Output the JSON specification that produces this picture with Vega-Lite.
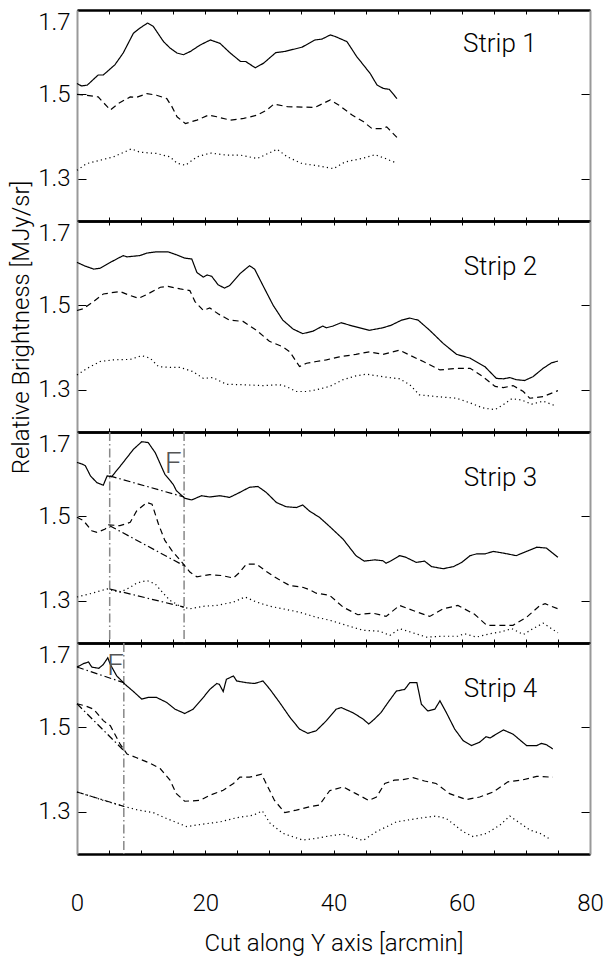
{
"$schema": "https://vega.github.io/schema/vega-lite/v6.json",
"background": "white",
"padding": {"left": 9, "top": 9, "right": 0, "bottom": 5},
"spacing": 0,
"bounds": "flush",
"config": {
  "view": {"stroke": null},
  "axis": {"grid": false, "labelFont": "Roboto", "titleFont": "Roboto", "labelColor": "black", "titleColor": "black", "tickColor": "black", "titleFontWeight": 300, "labelFontWeight": 300, "labelOverlap": false},
  "text": {"font": "Roboto", "fontWeight": 300}
},
"datasets": {
"strip1": [
{"series":"solid","x":0,"y":1.526},{"series":"solid","x":0.7,"y":1.52},{"series":"solid","x":1.6,"y":1.522},{"series":"solid","x":3.3,"y":1.546},{"series":"solid","x":4.1,"y":1.546},{"series":"solid","x":5.9,"y":1.57},{"series":"solid","x":7.2,"y":1.598},{"series":"solid","x":8.8,"y":1.645},{"series":"solid","x":9.8,"y":1.657},{"series":"solid","x":11.0,"y":1.669},{"series":"solid","x":11.9,"y":1.661},{"series":"solid","x":13.5,"y":1.625},{"series":"solid","x":14.5,"y":1.61},{"series":"solid","x":15.6,"y":1.598},{"series":"solid","x":16.6,"y":1.594},{"series":"solid","x":17.7,"y":1.602},{"series":"solid","x":19.2,"y":1.617},{"series":"solid","x":20.8,"y":1.629},{"series":"solid","x":22.3,"y":1.621},{"series":"solid","x":23.9,"y":1.598},{"series":"solid","x":25.5,"y":1.578},{"series":"solid","x":26.3,"y":1.578},{"series":"solid","x":27.8,"y":1.563},{"series":"solid","x":29.1,"y":1.574},{"series":"solid","x":31.0,"y":1.599},{"series":"solid","x":32.5,"y":1.602},{"series":"solid","x":35.1,"y":1.612},{"series":"solid","x":37.1,"y":1.629},{"series":"solid","x":38.2,"y":1.631},{"series":"solid","x":39.5,"y":1.641},{"series":"solid","x":40.3,"y":1.637},{"series":"solid","x":42.1,"y":1.625},{"series":"solid","x":43.6,"y":1.59},{"series":"solid","x":45.7,"y":1.55},{"series":"solid","x":46.8,"y":1.522},{"series":"solid","x":47.8,"y":1.514},{"series":"solid","x":48.7,"y":1.512},{"series":"solid","x":49.9,"y":1.49},
{"series":"dashed","x":0,"y":1.5},{"series":"dashed","x":1.5,"y":1.498},{"series":"dashed","x":3.3,"y":1.494},{"series":"dashed","x":5.2,"y":1.463},{"series":"dashed","x":6.5,"y":1.479},{"series":"dashed","x":8.3,"y":1.494},{"series":"dashed","x":9.3,"y":1.493},{"series":"dashed","x":10.9,"y":1.502},{"series":"dashed","x":12.4,"y":1.498},{"series":"dashed","x":14.0,"y":1.49},{"series":"dashed","x":14.8,"y":1.471},{"series":"dashed","x":15.6,"y":1.447},{"series":"dashed","x":16.9,"y":1.431},{"series":"dashed","x":18.7,"y":1.439},{"series":"dashed","x":20.5,"y":1.451},{"series":"dashed","x":21.8,"y":1.447},{"series":"dashed","x":23.9,"y":1.439},{"series":"dashed","x":26.0,"y":1.443},{"series":"dashed","x":28.1,"y":1.451},{"series":"dashed","x":29.6,"y":1.463},{"series":"dashed","x":30.7,"y":1.477},{"series":"dashed","x":32.8,"y":1.471},{"series":"dashed","x":35.1,"y":1.47},{"series":"dashed","x":37.1,"y":1.469},{"series":"dashed","x":39.5,"y":1.487},{"series":"dashed","x":40.8,"y":1.475},{"series":"dashed","x":42.9,"y":1.451},{"series":"dashed","x":44.7,"y":1.435},{"series":"dashed","x":46.0,"y":1.419},{"series":"dashed","x":47.6,"y":1.419},{"series":"dashed","x":48.3,"y":1.423},{"series":"dashed","x":49.9,"y":1.398},
{"series":"dotted","x":0,"y":1.32},{"series":"dotted","x":1.5,"y":1.336},{"series":"dotted","x":3.6,"y":1.344},{"series":"dotted","x":5.7,"y":1.352},{"series":"dotted","x":8.5,"y":1.371},{"series":"dotted","x":9.8,"y":1.363},{"series":"dotted","x":12.4,"y":1.36},{"series":"dotted","x":14.5,"y":1.352},{"series":"dotted","x":15.6,"y":1.337},{"series":"dotted","x":16.9,"y":1.332},{"series":"dotted","x":18.7,"y":1.352},{"series":"dotted","x":20.8,"y":1.361},{"series":"dotted","x":23.4,"y":1.356},{"series":"dotted","x":25.5,"y":1.356},{"series":"dotted","x":28.1,"y":1.348},{"series":"dotted","x":31.2,"y":1.37},{"series":"dotted","x":32.8,"y":1.352},{"series":"dotted","x":35.1,"y":1.336},{"series":"dotted","x":37.1,"y":1.332},{"series":"dotted","x":40.0,"y":1.324},{"series":"dotted","x":41.8,"y":1.34},{"series":"dotted","x":44.4,"y":1.348},{"series":"dotted","x":46.5,"y":1.357},{"series":"dotted","x":48.1,"y":1.348},{"series":"dotted","x":49.9,"y":1.337}
],
"strip2": [
{"series":"solid","x":0,"y":1.602},{"series":"solid","x":1.3,"y":1.593},{"series":"solid","x":2.6,"y":1.586},{"series":"solid","x":3.6,"y":1.588},{"series":"solid","x":5.2,"y":1.602},{"series":"solid","x":7.2,"y":1.618},{"series":"solid","x":7.8,"y":1.615},{"series":"solid","x":9.8,"y":1.618},{"series":"solid","x":10.9,"y":1.624},{"series":"solid","x":12.4,"y":1.627},{"series":"solid","x":14.2,"y":1.627},{"series":"solid","x":15.5,"y":1.62},{"series":"solid","x":16.8,"y":1.612},{"series":"solid","x":17.9,"y":1.61},{"series":"solid","x":18.7,"y":1.578},{"series":"solid","x":19.7,"y":1.567},{"series":"solid","x":20.3,"y":1.572},{"series":"solid","x":21.0,"y":1.569},{"series":"solid","x":22.0,"y":1.549},{"series":"solid","x":23.0,"y":1.541},{"series":"solid","x":23.8,"y":1.547},{"series":"solid","x":25.4,"y":1.575},{"series":"solid","x":26.9,"y":1.594},{"series":"solid","x":27.7,"y":1.586},{"series":"solid","x":29.0,"y":1.547},{"series":"solid","x":30.6,"y":1.5},{"series":"solid","x":32.1,"y":1.465},{"series":"solid","x":33.7,"y":1.444},{"series":"solid","x":35.2,"y":1.433},{"series":"solid","x":36.8,"y":1.439},{"series":"solid","x":38.3,"y":1.451},{"series":"solid","x":38.9,"y":1.447},{"series":"solid","x":39.9,"y":1.451},{"series":"solid","x":41.2,"y":1.459},{"series":"solid","x":43.0,"y":1.451},{"series":"solid","x":45.6,"y":1.441},{"series":"solid","x":47.7,"y":1.447},{"series":"solid","x":49.0,"y":1.453},{"series":"solid","x":50.6,"y":1.465},{"series":"solid","x":51.9,"y":1.47},{"series":"solid","x":53.2,"y":1.465},{"series":"solid","x":55.0,"y":1.441},{"series":"solid","x":57.1,"y":1.41},{"series":"solid","x":59.2,"y":1.384},{"series":"solid","x":61.3,"y":1.375},{"series":"solid","x":63.6,"y":1.355},{"series":"solid","x":65.4,"y":1.327},{"series":"solid","x":66.5,"y":1.326},{"series":"solid","x":67.5,"y":1.329},{"series":"solid","x":68.5,"y":1.324},{"series":"solid","x":69.8,"y":1.322},{"series":"solid","x":71.1,"y":1.331},{"series":"solid","x":72.7,"y":1.351},{"series":"solid","x":74.0,"y":1.364},{"series":"solid","x":75.0,"y":1.368},
{"series":"dashed","x":0,"y":1.488},{"series":"dashed","x":1.0,"y":1.492},{"series":"dashed","x":2.3,"y":1.506},{"series":"dashed","x":4.1,"y":1.527},{"series":"dashed","x":6.7,"y":1.533},{"series":"dashed","x":8.0,"y":1.525},{"series":"dashed","x":9.6,"y":1.517},{"series":"dashed","x":10.9,"y":1.526},{"series":"dashed","x":13.0,"y":1.543},{"series":"dashed","x":14.2,"y":1.545},{"series":"dashed","x":16.1,"y":1.539},{"series":"dashed","x":17.6,"y":1.535},{"series":"dashed","x":18.4,"y":1.509},{"series":"dashed","x":19.7,"y":1.488},{"series":"dashed","x":20.7,"y":1.494},{"series":"dashed","x":22.0,"y":1.48},{"series":"dashed","x":23.8,"y":1.465},{"series":"dashed","x":25.9,"y":1.462},{"series":"dashed","x":28.0,"y":1.441},{"series":"dashed","x":30.0,"y":1.415},{"series":"dashed","x":32.1,"y":1.402},{"series":"dashed","x":33.2,"y":1.39},{"series":"dashed","x":34.7,"y":1.355},{"series":"dashed","x":35.8,"y":1.363},{"series":"dashed","x":37.3,"y":1.367},{"series":"dashed","x":38.9,"y":1.371},{"series":"dashed","x":40.9,"y":1.378},{"series":"dashed","x":43.5,"y":1.384},{"series":"dashed","x":45.6,"y":1.39},{"series":"dashed","x":47.7,"y":1.384},{"series":"dashed","x":50.3,"y":1.394},{"series":"dashed","x":51.9,"y":1.382},{"series":"dashed","x":54.0,"y":1.367},{"series":"dashed","x":56.6,"y":1.347},{"series":"dashed","x":59.2,"y":1.351},{"series":"dashed","x":61.3,"y":1.351},{"series":"dashed","x":63.3,"y":1.331},{"series":"dashed","x":65.2,"y":1.308},{"series":"dashed","x":66.5,"y":1.305},{"series":"dashed","x":68.0,"y":1.31},{"series":"dashed","x":69.6,"y":1.296},{"series":"dashed","x":70.6,"y":1.28},{"series":"dashed","x":72.7,"y":1.284},{"series":"dashed","x":75.0,"y":1.298},
{"series":"dotted","x":0,"y":1.335},{"series":"dotted","x":1.6,"y":1.351},{"series":"dotted","x":3.6,"y":1.367},{"series":"dotted","x":5.7,"y":1.371},{"series":"dotted","x":8.3,"y":1.372},{"series":"dotted","x":10.1,"y":1.381},{"series":"dotted","x":11.4,"y":1.375},{"series":"dotted","x":12.7,"y":1.355},{"series":"dotted","x":14.5,"y":1.353},{"series":"dotted","x":16.1,"y":1.353},{"series":"dotted","x":18.1,"y":1.343},{"series":"dotted","x":19.7,"y":1.327},{"series":"dotted","x":21.2,"y":1.329},{"series":"dotted","x":23.3,"y":1.313},{"series":"dotted","x":25.9,"y":1.312},{"series":"dotted","x":29.0,"y":1.31},{"series":"dotted","x":31.6,"y":1.312},{"series":"dotted","x":32.6,"y":1.308},{"series":"dotted","x":34.2,"y":1.296},{"series":"dotted","x":35.8,"y":1.296},{"series":"dotted","x":37.3,"y":1.3},{"series":"dotted","x":39.4,"y":1.308},{"series":"dotted","x":41.5,"y":1.324},{"series":"dotted","x":43.5,"y":1.333},{"series":"dotted","x":45.1,"y":1.337},{"series":"dotted","x":47.7,"y":1.331},{"series":"dotted","x":50.3,"y":1.326},{"series":"dotted","x":51.9,"y":1.312},{"series":"dotted","x":53.4,"y":1.288},{"series":"dotted","x":56.0,"y":1.284},{"series":"dotted","x":59.2,"y":1.28},{"series":"dotted","x":61.3,"y":1.269},{"series":"dotted","x":63.3,"y":1.257},{"series":"dotted","x":65.2,"y":1.253},{"series":"dotted","x":66.5,"y":1.265},{"series":"dotted","x":67.8,"y":1.279},{"series":"dotted","x":69.3,"y":1.276},{"series":"dotted","x":70.9,"y":1.266},{"series":"dotted","x":72.7,"y":1.273},{"series":"dotted","x":74.8,"y":1.261}
],
"strip3": [
{"series":"solid","x":0,"y":1.628},{"series":"solid","x":0.8,"y":1.624},{"series":"solid","x":1.3,"y":1.62},{"series":"solid","x":2.1,"y":1.596},{"series":"solid","x":3.1,"y":1.58},{"series":"solid","x":4.1,"y":1.574},{"series":"solid","x":4.7,"y":1.596},{"series":"solid","x":5.4,"y":1.594},{"series":"solid","x":7.0,"y":1.624},{"series":"solid","x":8.8,"y":1.659},{"series":"solid","x":10.1,"y":1.677},{"series":"solid","x":11.1,"y":1.675},{"series":"solid","x":12.2,"y":1.651},{"series":"solid","x":13.7,"y":1.6},{"series":"solid","x":15.0,"y":1.576},{"series":"solid","x":15.5,"y":1.561},{"series":"solid","x":16.8,"y":1.543},{"series":"solid","x":17.9,"y":1.539},{"series":"solid","x":19.4,"y":1.549},{"series":"solid","x":20.7,"y":1.546},{"series":"solid","x":22.3,"y":1.549},{"series":"solid","x":23.8,"y":1.545},{"series":"solid","x":25.4,"y":1.557},{"series":"solid","x":26.9,"y":1.569},{"series":"solid","x":28.2,"y":1.571},{"series":"solid","x":29.5,"y":1.557},{"series":"solid","x":31.1,"y":1.533},{"series":"solid","x":32.6,"y":1.523},{"series":"solid","x":34.2,"y":1.521},{"series":"solid","x":35.2,"y":1.527},{"series":"solid","x":36.3,"y":1.512},{"series":"solid","x":37.8,"y":1.498},{"series":"solid","x":39.4,"y":1.476},{"series":"solid","x":41.5,"y":1.446},{"series":"solid","x":43.5,"y":1.407},{"series":"solid","x":44.8,"y":1.394},{"series":"solid","x":46.4,"y":1.397},{"series":"solid","x":47.7,"y":1.395},{"series":"solid","x":48.2,"y":1.389},{"series":"solid","x":49.0,"y":1.395},{"series":"solid","x":50.3,"y":1.407},{"series":"solid","x":51.3,"y":1.403},{"series":"solid","x":52.9,"y":1.391},{"series":"solid","x":54.2,"y":1.394},{"series":"solid","x":55.3,"y":1.381},{"series":"solid","x":57.1,"y":1.376},{"series":"solid","x":58.7,"y":1.381},{"series":"solid","x":60.0,"y":1.391},{"series":"solid","x":61.3,"y":1.407},{"series":"solid","x":62.3,"y":1.411},{"series":"solid","x":63.6,"y":1.411},{"series":"solid","x":64.9,"y":1.417},{"series":"solid","x":66.5,"y":1.413},{"series":"solid","x":68.5,"y":1.407},{"series":"solid","x":70.1,"y":1.417},{"series":"solid","x":71.7,"y":1.427},{"series":"solid","x":73.2,"y":1.425},{"series":"solid","x":75.0,"y":1.403},
{"series":"dashed","x":0,"y":1.498},{"series":"dashed","x":1.0,"y":1.49},{"series":"dashed","x":2.3,"y":1.466},{"series":"dashed","x":3.1,"y":1.462},{"series":"dashed","x":4.4,"y":1.47},{"series":"dashed","x":4.9,"y":1.48},{"series":"dashed","x":6.7,"y":1.478},{"series":"dashed","x":8.3,"y":1.486},{"series":"dashed","x":9.3,"y":1.513},{"series":"dashed","x":10.9,"y":1.533},{"series":"dashed","x":11.7,"y":1.529},{"series":"dashed","x":12.7,"y":1.482},{"series":"dashed","x":13.7,"y":1.443},{"series":"dashed","x":14.8,"y":1.419},{"series":"dashed","x":16.6,"y":1.387},{"series":"dashed","x":17.6,"y":1.368},{"series":"dashed","x":18.7,"y":1.357},{"series":"dashed","x":20.7,"y":1.362},{"series":"dashed","x":22.5,"y":1.36},{"series":"dashed","x":24.4,"y":1.354},{"series":"dashed","x":25.4,"y":1.368},{"series":"dashed","x":26.4,"y":1.387},{"series":"dashed","x":28.0,"y":1.387},{"series":"dashed","x":29.5,"y":1.37},{"series":"dashed","x":31.3,"y":1.352},{"series":"dashed","x":33.2,"y":1.336},{"series":"dashed","x":35.2,"y":1.332},{"series":"dashed","x":36.3,"y":1.326},{"series":"dashed","x":37.3,"y":1.318},{"series":"dashed","x":39.4,"y":1.313},{"series":"dashed","x":41.5,"y":1.285},{"series":"dashed","x":43.8,"y":1.267},{"series":"dashed","x":46.1,"y":1.271},{"series":"dashed","x":48.2,"y":1.263},{"series":"dashed","x":50.3,"y":1.289},{"series":"dashed","x":52.4,"y":1.277},{"series":"dashed","x":55.0,"y":1.263},{"series":"dashed","x":57.1,"y":1.281},{"series":"dashed","x":59.4,"y":1.289},{"series":"dashed","x":62.0,"y":1.268},{"series":"dashed","x":63.9,"y":1.242},{"series":"dashed","x":66.0,"y":1.242},{"series":"dashed","x":68.0,"y":1.242},{"series":"dashed","x":70.1,"y":1.261},{"series":"dashed","x":72.2,"y":1.289},{"series":"dashed","x":73.0,"y":1.293},{"series":"dashed","x":75.0,"y":1.281},
{"series":"dotted","x":0,"y":1.309},{"series":"dotted","x":2.1,"y":1.317},{"series":"dotted","x":4.7,"y":1.328},{"series":"dotted","x":6.7,"y":1.32},{"series":"dotted","x":8.3,"y":1.332},{"series":"dotted","x":9.3,"y":1.342},{"series":"dotted","x":10.9,"y":1.348},{"series":"dotted","x":12.2,"y":1.34},{"series":"dotted","x":13.5,"y":1.317},{"series":"dotted","x":14.5,"y":1.301},{"series":"dotted","x":16.1,"y":1.287},{"series":"dotted","x":17.6,"y":1.281},{"series":"dotted","x":19.7,"y":1.287},{"series":"dotted","x":21.8,"y":1.289},{"series":"dotted","x":24.4,"y":1.297},{"series":"dotted","x":26.2,"y":1.309},{"series":"dotted","x":28.0,"y":1.297},{"series":"dotted","x":30.1,"y":1.287},{"series":"dotted","x":32.1,"y":1.281},{"series":"dotted","x":34.7,"y":1.273},{"series":"dotted","x":37.3,"y":1.261},{"series":"dotted","x":39.4,"y":1.254},{"series":"dotted","x":42.0,"y":1.242},{"series":"dotted","x":44.6,"y":1.23},{"series":"dotted","x":47.2,"y":1.228},{"series":"dotted","x":48.8,"y":1.218},{"series":"dotted","x":50.3,"y":1.234},{"series":"dotted","x":52.4,"y":1.224},{"series":"dotted","x":54.5,"y":1.214},{"series":"dotted","x":57.1,"y":1.216},{"series":"dotted","x":59.4,"y":1.216},{"series":"dotted","x":60.4,"y":1.222},{"series":"dotted","x":62.3,"y":1.214},{"series":"dotted","x":64.4,"y":1.222},{"series":"dotted","x":66.0,"y":1.226},{"series":"dotted","x":67.8,"y":1.234},{"series":"dotted","x":69.6,"y":1.22},{"series":"dotted","x":71.1,"y":1.234},{"series":"dotted","x":72.7,"y":1.247},{"series":"dotted","x":74.0,"y":1.234},{"series":"dotted","x":75.0,"y":1.224}
],
"strip4": [
{"series":"solid","x":0,"y":1.643},{"series":"solid","x":1.0,"y":1.651},{"series":"solid","x":1.8,"y":1.655},{"series":"solid","x":2.3,"y":1.643},{"series":"solid","x":3.4,"y":1.64},{"series":"solid","x":4.1,"y":1.649},{"series":"solid","x":4.8,"y":1.665},{"series":"solid","x":5.2,"y":1.649},{"series":"solid","x":6.2,"y":1.622},{"series":"solid","x":7.5,"y":1.602},{"series":"solid","x":8.8,"y":1.585},{"series":"solid","x":10.1,"y":1.567},{"series":"solid","x":11.1,"y":1.571},{"series":"solid","x":12.4,"y":1.571},{"series":"solid","x":14.0,"y":1.559},{"series":"solid","x":15.3,"y":1.543},{"series":"solid","x":16.8,"y":1.533},{"series":"solid","x":18.1,"y":1.543},{"series":"solid","x":19.7,"y":1.571},{"series":"solid","x":20.7,"y":1.59},{"series":"solid","x":21.8,"y":1.604},{"series":"solid","x":22.2,"y":1.602},{"series":"solid","x":22.8,"y":1.585},{"series":"solid","x":23.3,"y":1.614},{"series":"solid","x":24.4,"y":1.622},{"series":"solid","x":24.9,"y":1.61},{"series":"solid","x":26.4,"y":1.606},{"series":"solid","x":27.7,"y":1.604},{"series":"solid","x":29.0,"y":1.61},{"series":"solid","x":30.1,"y":1.59},{"series":"solid","x":31.6,"y":1.559},{"series":"solid","x":33.2,"y":1.524},{"series":"solid","x":34.7,"y":1.496},{"series":"solid","x":36.0,"y":1.486},{"series":"solid","x":37.3,"y":1.492},{"series":"solid","x":38.9,"y":1.516},{"series":"solid","x":40.4,"y":1.543},{"series":"solid","x":41.2,"y":1.547},{"series":"solid","x":43.0,"y":1.535},{"series":"solid","x":44.6,"y":1.52},{"series":"solid","x":45.5,"y":1.508},{"series":"solid","x":46.4,"y":1.52},{"series":"solid","x":47.4,"y":1.535},{"series":"solid","x":48.5,"y":1.559},{"series":"solid","x":49.8,"y":1.586},{"series":"solid","x":51.1,"y":1.59},{"series":"solid","x":51.9,"y":1.606},{"series":"solid","x":53.0,"y":1.606},{"series":"solid","x":53.7,"y":1.555},{"series":"solid","x":54.7,"y":1.539},{"series":"solid","x":55.8,"y":1.543},{"series":"solid","x":56.6,"y":1.563},{"series":"solid","x":57.6,"y":1.535},{"series":"solid","x":58.9,"y":1.496},{"series":"solid","x":60.2,"y":1.469},{"series":"solid","x":61.5,"y":1.457},{"series":"solid","x":62.8,"y":1.465},{"series":"solid","x":63.8,"y":1.478},{"series":"solid","x":64.4,"y":1.475},{"series":"solid","x":66.5,"y":1.494},{"series":"solid","x":68.0,"y":1.484},{"series":"solid","x":70.1,"y":1.457},{"series":"solid","x":71.7,"y":1.457},{"series":"solid","x":72.4,"y":1.462},{"series":"solid","x":73.2,"y":1.459},{"series":"solid","x":74.2,"y":1.449},
{"series":"dashed","x":0,"y":1.556},{"series":"dashed","x":1.3,"y":1.551},{"series":"dashed","x":2.6,"y":1.543},{"series":"dashed","x":4.1,"y":1.516},{"series":"dashed","x":5.2,"y":1.504},{"series":"dashed","x":6.7,"y":1.461},{"series":"dashed","x":7.8,"y":1.437},{"series":"dashed","x":9.3,"y":1.428},{"series":"dashed","x":11.4,"y":1.415},{"series":"dashed","x":13.0,"y":1.402},{"series":"dashed","x":14.5,"y":1.375},{"series":"dashed","x":15.5,"y":1.343},{"series":"dashed","x":16.8,"y":1.325},{"series":"dashed","x":19.2,"y":1.327},{"series":"dashed","x":20.7,"y":1.339},{"series":"dashed","x":22.8,"y":1.351},{"series":"dashed","x":24.4,"y":1.367},{"series":"dashed","x":25.4,"y":1.382},{"series":"dashed","x":26.9,"y":1.382},{"series":"dashed","x":28.8,"y":1.389},{"series":"dashed","x":29.5,"y":1.367},{"series":"dashed","x":30.8,"y":1.327},{"series":"dashed","x":32.4,"y":1.298},{"series":"dashed","x":34.2,"y":1.304},{"series":"dashed","x":36.3,"y":1.312},{"series":"dashed","x":37.8,"y":1.316},{"series":"dashed","x":39.4,"y":1.35},{"series":"dashed","x":41.5,"y":1.359},{"series":"dashed","x":43.5,"y":1.343},{"series":"dashed","x":45.5,"y":1.327},{"series":"dashed","x":46.7,"y":1.335},{"series":"dashed","x":48.0,"y":1.367},{"series":"dashed","x":49.5,"y":1.375},{"series":"dashed","x":50.8,"y":1.376},{"series":"dashed","x":52.4,"y":1.381},{"series":"dashed","x":54.2,"y":1.373},{"series":"dashed","x":56.0,"y":1.367},{"series":"dashed","x":58.1,"y":1.343},{"series":"dashed","x":60.7,"y":1.329},{"series":"dashed","x":62.8,"y":1.335},{"series":"dashed","x":64.9,"y":1.347},{"series":"dashed","x":67.2,"y":1.371},{"series":"dashed","x":69.3,"y":1.375},{"series":"dashed","x":71.7,"y":1.384},{"series":"dashed","x":74.2,"y":1.382},
{"series":"dotted","x":0,"y":1.347},{"series":"dotted","x":2.1,"y":1.337},{"series":"dotted","x":4.1,"y":1.327},{"series":"dotted","x":7.3,"y":1.313},{"series":"dotted","x":9.3,"y":1.305},{"series":"dotted","x":11.9,"y":1.298},{"series":"dotted","x":14.0,"y":1.284},{"series":"dotted","x":17.1,"y":1.265},{"series":"dotted","x":19.7,"y":1.271},{"series":"dotted","x":22.3,"y":1.276},{"series":"dotted","x":24.9,"y":1.286},{"series":"dotted","x":27.5,"y":1.292},{"series":"dotted","x":28.9,"y":1.302},{"series":"dotted","x":30.1,"y":1.273},{"series":"dotted","x":32.1,"y":1.249},{"series":"dotted","x":35.2,"y":1.233},{"series":"dotted","x":37.3,"y":1.237},{"series":"dotted","x":39.4,"y":1.243},{"series":"dotted","x":41.5,"y":1.247},{"series":"dotted","x":44.6,"y":1.232},{"series":"dotted","x":46.7,"y":1.253},{"series":"dotted","x":49.8,"y":1.276},{"series":"dotted","x":53.0,"y":1.284},{"series":"dotted","x":56.0,"y":1.29},{"series":"dotted","x":57.6,"y":1.284},{"series":"dotted","x":60.2,"y":1.253},{"series":"dotted","x":61.8,"y":1.241},{"series":"dotted","x":63.9,"y":1.249},{"series":"dotted","x":66.0,"y":1.269},{"series":"dotted","x":67.5,"y":1.29},{"series":"dotted","x":69.1,"y":1.273},{"series":"dotted","x":70.6,"y":1.257},{"series":"dotted","x":72.2,"y":1.249},{"series":"dotted","x":73.8,"y":1.235}
],
"fits": [
{"strip":3,"series":"solid","x":5.1,"y":1.596},{"strip":3,"series":"solid","x":16.7,"y":1.546},
{"strip":3,"series":"dashed","x":5.1,"y":1.478},{"strip":3,"series":"dashed","x":16.7,"y":1.383},
{"strip":3,"series":"dotted","x":5.1,"y":1.328},{"strip":3,"series":"dotted","x":16.7,"y":1.285},
{"strip":4,"series":"solid","x":0,"y":1.643},{"strip":4,"series":"solid","x":7.3,"y":1.606},
{"strip":4,"series":"dashed","x":0,"y":1.556},{"strip":4,"series":"dashed","x":7.3,"y":1.445},
{"strip":4,"series":"dotted","x":0,"y":1.347},{"strip":4,"series":"dotted","x":7.3,"y":1.313}
],
"vlines": [{"strip":3,"x":5.1},{"strip":3,"x":16.7},{"strip":4,"x":7.3}],
"names": [
{"strip":1,"x":60.2,"y":1.6,"text":"Strip 1"},
{"strip":2,"x":60.3,"y":1.571,"text":"Strip 2"},
{"strip":3,"x":60.3,"y":1.571,"text":"Strip 3"},
{"strip":4,"x":60.3,"y":1.571,"text":"Strip 4"}
],
"flags": [{"strip":3,"x":16.3,"y":1.604,"text":"F"},{"strip":4,"x":7.3,"y":1.625,"text":"F"}]
},
"vconcat": [
{
 "width": 513, "height": 211,
 "layer": [
  {"data": {"name": "strip1"},
   "mark": {"type": "line", "color": "black", "strokeWidth": 1.2},
   "encoding": {
    "x": {"field": "x", "type": "quantitative", "scale": {"domain": [0, 80], "nice": false}, "axis": {"orient": "bottom", "values": [0,5,10,15,20,25,30,35,40,45,50,55,60,65,70,75,80], "tickSize": -4, "labels": false, "title": null, "domainColor": "black", "domainWidth": 2.5}},
    "y": {"field": "y", "type": "quantitative", "scale": {"domain": [1.2, 1.7], "nice": false, "zero": false}, "axis": {"orient": "left", "values": [1.3, 1.5, 1.7], "format": ".1f", "tickSize": -9, "labelFontSize": 24, "labelPadding": 16, "labelFlush": true, "domainColor": "#999", "domainWidth": 2, "title": null}},
    "strokeDash": {"field": "series", "type": "nominal", "scale": {"domain": ["solid", "dashed", "dotted"], "range": [[1, 0], [6, 4], [1.2, 3.2]]}, "legend": null}
   }},
  {"data": {"name": "names"}, "transform": [{"filter": "datum.strip == 1"}],
   "mark": {"type": "text", "align": "left", "baseline": "alphabetic", "fontSize": 26, "color": "black"},
   "encoding": {
    "x": {"field": "x", "type": "quantitative", "scale": {"domain": [0, 80], "nice": false}, "axis": {"orient": "top", "values": [0,5,10,15,20,25,30,35,40,45,50,55,60,65,70,75,80], "tickSize": -4, "labels": false, "title": null, "domainColor": "black", "domainWidth": 2.5}},
    "y": {"field": "y", "type": "quantitative", "scale": {"domain": [1.2, 1.7], "nice": false, "zero": false}, "axis": {"orient": "right", "values": [1.3, 1.5, 1.7], "tickSize": -9, "labels": false, "title": null, "domainColor": "#999", "domainWidth": 2}},
    "text": {"field": "text"}
   }}
 ]
},
{
 "width": 513, "height": 211,
 "layer": [
  {"data": {"name": "strip2"},
   "mark": {"type": "line", "color": "black", "strokeWidth": 1.2},
   "encoding": {
    "x": {"field": "x", "type": "quantitative", "scale": {"domain": [0, 80], "nice": false}, "axis": {"orient": "bottom", "values": [0,5,10,15,20,25,30,35,40,45,50,55,60,65,70,75,80], "tickSize": -4, "labels": false, "title": null, "domainColor": "black", "domainWidth": 2.5}},
    "y": {"field": "y", "type": "quantitative", "scale": {"domain": [1.2, 1.7], "nice": false, "zero": false}, "axis": {"orient": "left", "values": [1.3, 1.5, 1.7], "format": ".1f", "tickSize": -9, "labelFontSize": 24, "labelPadding": 16, "labelFlush": true, "domainColor": "#999", "domainWidth": 2, "title": "Relative Brightness [MJy/sr]", "titleFontSize": 24, "titleY": 106, "titlePadding": 4}},
    "strokeDash": {"field": "series", "type": "nominal", "scale": {"domain": ["solid", "dashed", "dotted"], "range": [[1, 0], [6, 4], [1.2, 3.2]]}, "legend": null}
   }},
  {"data": {"name": "names"}, "transform": [{"filter": "datum.strip == 2"}],
   "mark": {"type": "text", "align": "left", "baseline": "alphabetic", "fontSize": 26, "color": "black"},
   "encoding": {
    "x": {"field": "x", "type": "quantitative", "scale": {"domain": [0, 80], "nice": false}, "axis": {"orient": "top", "values": [0,5,10,15,20,25,30,35,40,45,50,55,60,65,70,75,80], "tickSize": -4, "labels": false, "title": null, "domainColor": "black", "domainWidth": 2.5}},
    "y": {"field": "y", "type": "quantitative", "scale": {"domain": [1.2, 1.7], "nice": false, "zero": false}, "axis": {"orient": "right", "values": [1.3, 1.5, 1.7], "tickSize": -9, "labels": false, "title": null, "domainColor": "#999", "domainWidth": 2}},
    "text": {"field": "text"}
   }}
 ]
},
{
 "width": 513, "height": 211,
 "layer": [
  {"data": {"name": "vlines"}, "transform": [{"filter": "datum.strip == 3"}],
   "mark": {"type": "rule", "color": "#888", "strokeWidth": 1.5, "strokeDash": [9, 3, 1.5, 3]},
   "encoding": {"x": {"field": "x", "type": "quantitative", "scale": {"domain": [0, 80], "nice": false}, "axis": null}}},
  {"data": {"name": "strip3"},
   "mark": {"type": "line", "color": "black", "strokeWidth": 1.2},
   "encoding": {
    "x": {"field": "x", "type": "quantitative", "scale": {"domain": [0, 80], "nice": false}, "axis": {"orient": "bottom", "values": [0,5,10,15,20,25,30,35,40,45,50,55,60,65,70,75,80], "tickSize": -4, "labels": false, "title": null, "domainColor": "black", "domainWidth": 2.5}},
    "y": {"field": "y", "type": "quantitative", "scale": {"domain": [1.2, 1.7], "nice": false, "zero": false}, "axis": {"orient": "left", "values": [1.3, 1.5, 1.7], "format": ".1f", "tickSize": -9, "labelFontSize": 24, "labelPadding": 16, "labelFlush": true, "domainColor": "#999", "domainWidth": 2, "title": null}},
    "strokeDash": {"field": "series", "type": "nominal", "scale": {"domain": ["solid", "dashed", "dotted"], "range": [[1, 0], [6, 4], [1.2, 3.2]]}, "legend": null}
   }},
  {"data": {"name": "fits"}, "transform": [{"filter": "datum.strip == 3"}],
   "mark": {"type": "line", "color": "black", "strokeWidth": 1.2, "strokeDash": [7, 3, 1.5, 3]},
   "encoding": {
    "x": {"field": "x", "type": "quantitative", "scale": {"domain": [0, 80], "nice": false}, "axis": null},
    "y": {"field": "y", "type": "quantitative", "scale": {"domain": [1.2, 1.7], "nice": false, "zero": false}, "axis": null},
    "detail": {"field": "series"}
   }},
  {"data": {"name": "flags"}, "transform": [{"filter": "datum.strip == 3"}],
   "mark": {"type": "text", "align": "right", "baseline": "alphabetic", "fontSize": 30, "color": "#555"},
   "encoding": {
    "x": {"field": "x", "type": "quantitative", "scale": {"domain": [0, 80], "nice": false}, "axis": null},
    "y": {"field": "y", "type": "quantitative", "scale": {"domain": [1.2, 1.7], "nice": false, "zero": false}, "axis": null},
    "text": {"field": "text"}
   }},
  {"data": {"name": "names"}, "transform": [{"filter": "datum.strip == 3"}],
   "mark": {"type": "text", "align": "left", "baseline": "alphabetic", "fontSize": 26, "color": "black"},
   "encoding": {
    "x": {"field": "x", "type": "quantitative", "scale": {"domain": [0, 80], "nice": false}, "axis": {"orient": "top", "values": [0,5,10,15,20,25,30,35,40,45,50,55,60,65,70,75,80], "tickSize": -4, "labels": false, "title": null, "domainColor": "black", "domainWidth": 2.5}},
    "y": {"field": "y", "type": "quantitative", "scale": {"domain": [1.2, 1.7], "nice": false, "zero": false}, "axis": {"orient": "right", "values": [1.3, 1.5, 1.7], "tickSize": -9, "labels": false, "title": null, "domainColor": "#999", "domainWidth": 2}},
    "text": {"field": "text"}
   }}
 ]
},
{
 "width": 513, "height": 211,
 "layer": [
  {"data": {"name": "vlines"}, "transform": [{"filter": "datum.strip == 4"}],
   "mark": {"type": "rule", "color": "#888", "strokeWidth": 1.5, "strokeDash": [9, 3, 1.5, 3]},
   "encoding": {"x": {"field": "x", "type": "quantitative", "scale": {"domain": [0, 80], "nice": false}, "axis": null}}},
  {"data": {"name": "strip4"},
   "mark": {"type": "line", "color": "black", "strokeWidth": 1.2},
   "encoding": {
    "x": {"field": "x", "type": "quantitative", "scale": {"domain": [0, 80], "nice": false}, "axis": {"orient": "bottom", "values": [0,5,10,15,20,25,30,35,40,45,50,55,60,65,70,75,80], "tickSize": -4, "labels": true, "labelExpr": "datum.value % 20 === 0 ? datum.label : ''", "labelFontSize": 24, "labelPadding": 41, "labelFlush": false, "title": "Cut along Y axis [arcmin]", "titleFontSize": 24, "titlePadding": 16, "domainColor": "black", "domainWidth": 2.5}},
    "y": {"field": "y", "type": "quantitative", "scale": {"domain": [1.2, 1.7], "nice": false, "zero": false}, "axis": {"orient": "left", "values": [1.3, 1.5, 1.7], "format": ".1f", "tickSize": -9, "labelFontSize": 24, "labelPadding": 16, "labelFlush": true, "domainColor": "#999", "domainWidth": 2, "title": null}},
    "strokeDash": {"field": "series", "type": "nominal", "scale": {"domain": ["solid", "dashed", "dotted"], "range": [[1, 0], [6, 4], [1.2, 3.2]]}, "legend": null}
   }},
  {"data": {"name": "fits"}, "transform": [{"filter": "datum.strip == 4"}],
   "mark": {"type": "line", "color": "black", "strokeWidth": 1.2, "strokeDash": [7, 3, 1.5, 3]},
   "encoding": {
    "x": {"field": "x", "type": "quantitative", "scale": {"domain": [0, 80], "nice": false}, "axis": null},
    "y": {"field": "y", "type": "quantitative", "scale": {"domain": [1.2, 1.7], "nice": false, "zero": false}, "axis": null},
    "detail": {"field": "series"}
   }},
  {"data": {"name": "flags"}, "transform": [{"filter": "datum.strip == 4"}],
   "mark": {"type": "text", "align": "right", "baseline": "alphabetic", "fontSize": 30, "color": "#555"},
   "encoding": {
    "x": {"field": "x", "type": "quantitative", "scale": {"domain": [0, 80], "nice": false}, "axis": null},
    "y": {"field": "y", "type": "quantitative", "scale": {"domain": [1.2, 1.7], "nice": false, "zero": false}, "axis": null},
    "text": {"field": "text"}
   }},
  {"data": {"name": "names"}, "transform": [{"filter": "datum.strip == 4"}],
   "mark": {"type": "text", "align": "left", "baseline": "alphabetic", "fontSize": 26, "color": "black"},
   "encoding": {
    "x": {"field": "x", "type": "quantitative", "scale": {"domain": [0, 80], "nice": false}, "axis": {"orient": "top", "values": [0,5,10,15,20,25,30,35,40,45,50,55,60,65,70,75,80], "tickSize": -4, "labels": false, "title": null, "domainColor": "black", "domainWidth": 2.5}},
    "y": {"field": "y", "type": "quantitative", "scale": {"domain": [1.2, 1.7], "nice": false, "zero": false}, "axis": {"orient": "right", "values": [1.3, 1.5, 1.7], "tickSize": -9, "labels": false, "title": null, "domainColor": "#999", "domainWidth": 2}},
    "text": {"field": "text"}
   }}
 ]
}
]
}
